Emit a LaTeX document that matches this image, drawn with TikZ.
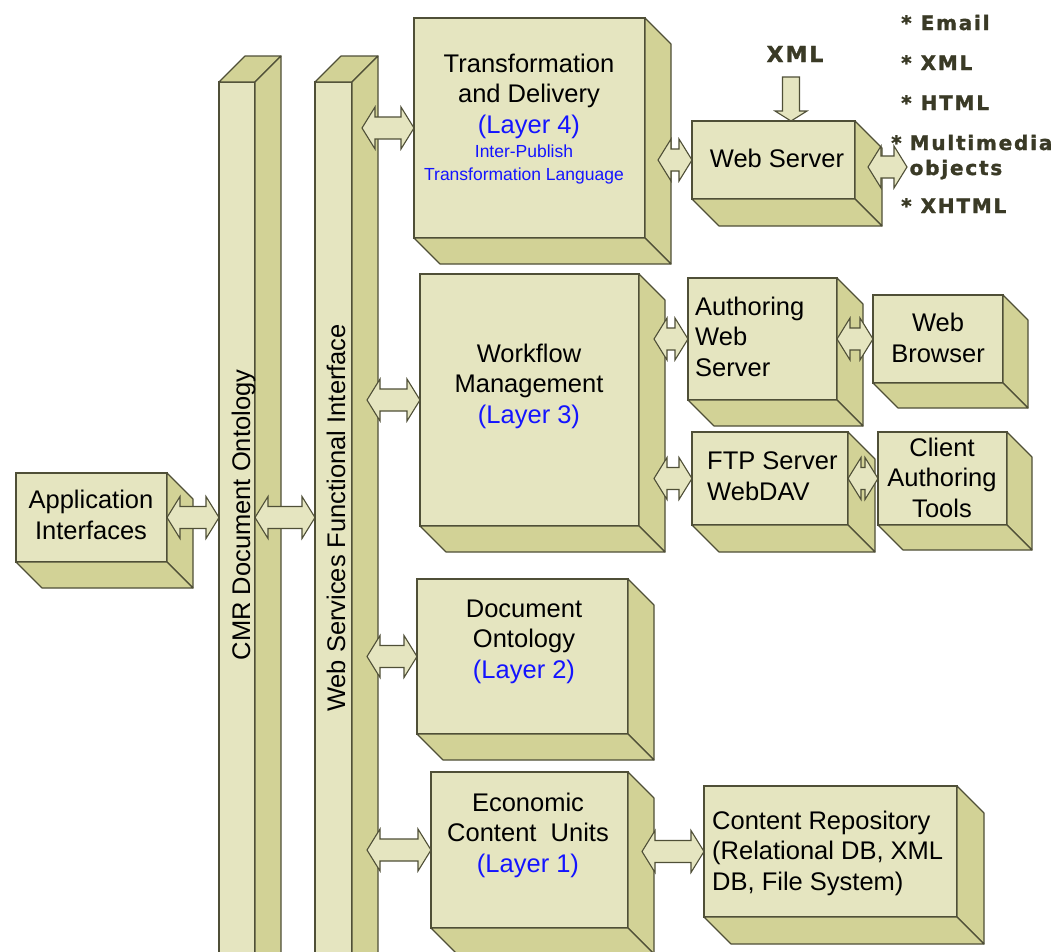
\documentclass[tikz,border=0pt]{standalone}
\usepackage{fontspec}
\setmainfont{Liberation Sans}
\newfontfamily\heavy{DejaVu Sans}[BoldFeatures={FakeBold=1.5}, LetterSpace=9]
\usetikzlibrary{calc}
\definecolor{facelight}{HTML}{E5E5C0}
\definecolor{facedark}{HTML}{D2D296}
\definecolor{edge}{HTML}{4F4F37}
\definecolor{layerblue}{HTML}{1414FF}
\definecolor{heavytxt}{HTML}{3A3A26}
% right and bottom faces of a box (depth goes down-right)
\newcommand\cubefaces[2]{%
  \filldraw[side] (#1.north east) -- ++(#2,#2) -- ([shift={(#2,#2)}]#1.south east) -- (#1.south east) -- cycle;
  \filldraw[side] (#1.south west) -- (#1.south east) -- ++(#2,#2) -- ([shift={(#2,#2)}]#1.south west) -- cycle;}
% top and right faces of a pillar (depth goes up-right)
\newcommand\pillarfaces[2]{%
  \filldraw[side] (#1.north west) -- ++(#2,-#2) -- ([shift={(#2,-#2)}]#1.north east) -- (#1.north east) -- cycle;
  \filldraw[side] (#1.north east) -- ++(#2,-#2) -- ([shift={(#2,-#2)}]#1.south east) -- (#1.south east) -- cycle;}
% fat double arrow: #1 left anchor, #2 left offset, #3 right anchor, #4 right offset, #5 coordinate giving y
\newcommand\harrow[5]{%
  \filldraw[arr] let \p1=(#1), \p2=(#3), \p3=(#5) in
  (\x1+#2pt,\y3) -- (\x1+#2pt+13pt,\y3+21pt) -- (\x1+#2pt+13pt,\y3+11pt)
  -- (\x2+#4pt-13pt,\y3+11pt) -- (\x2+#4pt-13pt,\y3+21pt) -- (\x2+#4pt,\y3)
  -- (\x2+#4pt-13pt,\y3-21pt) -- (\x2+#4pt-13pt,\y3-11pt)
  -- (\x1+#2pt+13pt,\y3-11pt) -- (\x1+#2pt+13pt,\y3-21pt) -- cycle;}
\begin{document}
\begin{tikzpicture}[x=1pt,y=-1pt,
  front/.style={draw=edge, fill=facelight, line width=1.1pt, inner sep=0pt, outer sep=0pt, anchor=north west},
  side/.style={draw=edge, fill=facedark, line width=1.1pt, line join=round},
  arr/.style={draw=edge, fill=facelight, line width=1.1pt, line join=miter},
  txt/.style={font=\fontsize{25.5}{30.5}\selectfont, align=center, inner sep=0pt, anchor=base},
  ltxt/.style={txt, align=left, anchor=base west},
  smalltxt/.style={font=\fontsize{17.5}{23}\selectfont, text=layerblue, align=center, inner sep=0pt, anchor=base},
  vtxt/.style={font=\fontsize{25.5}{30.5}\selectfont, rotate=90, inner sep=0pt, anchor=base},
  heavylbl/.style={font=\heavy\bfseries\fontsize{20}{25}\selectfont, text=heavytxt, inner sep=0pt, anchor=base west, align=left},
]
\useasboundingbox (0,0) rectangle (1057,951);
\clip (0,0) rectangle (1057,951);

% ---------- pillars ----------
\node[front, minimum width=36pt, minimum height=920pt] (cmr) at (219,82) {};
\pillarfaces{cmr}{26}
\node[front, minimum width=37pt, minimum height=920pt] (ws) at (315,82) {};
\pillarfaces{ws}{26}

% ---------- boxes ----------
\node[front, minimum width=151pt, minimum height=89pt] (app) at (16,473) {};
\cubefaces{app}{26}
\node[front, minimum width=231pt, minimum height=220pt] (tf) at (414,18) {};
\cubefaces{tf}{26}
\node[front, minimum width=219pt, minimum height=252pt] (wf) at (420,274) {};
\cubefaces{wf}{26}
\node[front, minimum width=211pt, minimum height=155pt] (dont) at (417,579) {};
\cubefaces{dont}{26}
\node[front, minimum width=197pt, minimum height=156pt] (ecu) at (431,772) {};
\cubefaces{ecu}{26}
\node[front, minimum width=253pt, minimum height=131pt] (repo) at (704,786) {};
\cubefaces{repo}{27}
\node[front, minimum width=163pt, minimum height=78pt] (web) at (692,121) {};
\cubefaces{web}{27}
\node[front, minimum width=149pt, minimum height=122pt] (aws) at (688,278) {};
\cubefaces{aws}{26}
\node[front, minimum width=130pt, minimum height=88pt] (wb) at (873,295) {};
\cubefaces{wb}{25}
\node[front, minimum width=156pt, minimum height=93pt] (ftp) at (692,432) {};
\cubefaces{ftp}{27}
\node[front, minimum width=129pt, minimum height=93pt] (cat) at (878,432) {};
\cubefaces{cat}{25}

% ---------- free ends ----------
\coordinate (outr) at (907,167);
\coordinate (xmlsrc) at (791,77);

% ---------- arrows ----------
\harrow{app.east}{0}{cmr.west}{0}{app.east}
\harrow{cmr.east}{0}{ws.west}{0}{app.east}
\harrow{ws.east}{10}{tf.west}{0}{tf.west}
\harrow{ws.east}{15}{wf.west}{0}{wf.west}
\harrow{ws.east}{15}{dont.west}{0}{dont.west}
\harrow{ws.east}{15}{ecu.west}{0}{ecu.west}
\harrow{ecu.east}{14}{repo.west}{0}{repo.west}
\harrow{tf.east}{13}{web.west}{0}{web.west}
\harrow{web.east}{13}{outr}{0}{outr}
\harrow{wf.east}{15}{aws.west}{0}{aws.west}
\harrow{aws.east}{0}{wb.west}{0}{wb.west}
\harrow{wf.east}{15}{ftp.west}{0}{ftp.west}
\harrow{ftp.east}{0}{cat.west}{0}{cat.west}
\filldraw[arr] let \p1=(xmlsrc), \p2=(xmlsrc |- web.north) in
  (\x1-8.5pt,\y1) -- (\x1+8.5pt,\y1) -- (\x1+8.5pt,\y2+10pt) -- (\x1+16pt,\y2+10pt)
  -- (\x1,\y2) -- (\x1-16pt,\y2+10pt) -- (\x1-8.5pt,\y2+10pt) -- cycle;

% ---------- texts (anchor = baseline of last line) ----------
\node[vtxt] (cmrt) at (250,515) {CMR Document Ontology};
\node[vtxt] (wst) at (345,518) {Web Services Functional Interface};
\node[txt] (appt) at (91,539) {Application\\Interfaces};
\node[txt] (tft) at (529,133) {Transformation\\and Delivery\\\textcolor{layerblue}{(Layer 4)}};
\node[smalltxt] (tfs) at (524,180) {Inter-Publish\\Transformation Language};
\node[txt] (wft) at (529,423) {Workflow\\Management\\\textcolor{layerblue}{(Layer 3)}};
\node[txt] (dontt) at (524,678) {Document\\Ontology\\\textcolor{layerblue}{(Layer 2)}};
\node[txt] (ecut) at (528,872) {Economic\\Content\ \ Units\\\textcolor{layerblue}{(Layer 1)}};
\node[ltxt] (repot) at (712,890) {Content Repository\\(Relational DB, XML\\DB, File System)};
\node[txt] (webt) at (777,167) {Web Server};
\node[ltxt] (awst) at (695,376) {Authoring\\Web\\Server};
\node[txt] (wbt) at (938,362) {Web\\Browser};
\node[ltxt] (ftpt) at (707,500) {FTP Server\\WebDAV};
\node[txt] (catt) at (942,517) {Client\\Authoring\\Tools};

\node[heavylbl, font=\heavy\bfseries\fontsize{22}{26}\selectfont, anchor=base] (xmll) at (795,62) {XML};
\node[heavylbl] (b1) at (901,30) {*\hspace{9pt}Email};
\node[heavylbl] (b2) at (901,70) {*\hspace{9pt}XML};
\node[heavylbl] (b3) at (901,110) {*\hspace{9pt}HTML};
\node[heavylbl] (b4) at (891,175) {*\hspace{8pt}Multimedia\\\hphantom{*\hspace{8pt}}objects};
\node[heavylbl] (b5) at (901,213) {*\hspace{9pt}XHTML};
\end{tikzpicture}
\end{document}
